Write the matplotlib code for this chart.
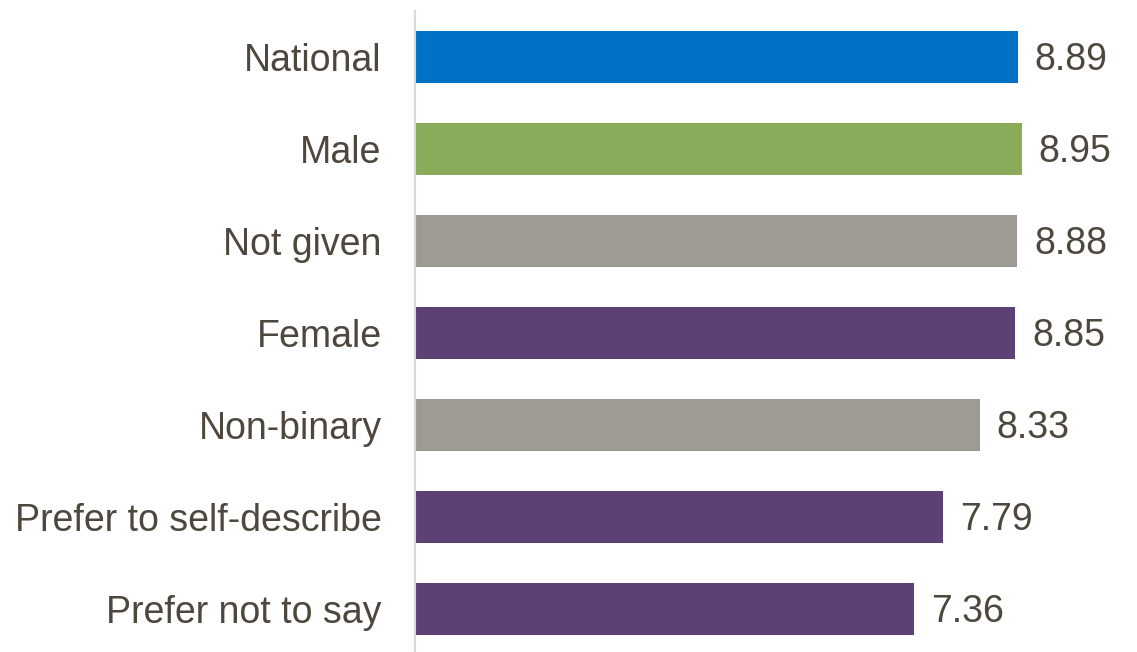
import matplotlib
matplotlib.use("Agg")
import matplotlib.pyplot as plt

categories = ["National", "Male", "Not given", "Female", "Non-binary",
              "Prefer to self-describe", "Prefer not to say"]
values = [8.89, 8.95, 8.88, 8.85, 8.33, 7.79, 7.36]
colors = ["#0072C6", "#8AAC5A", "#9E9A94", "#5C4174", "#9E9A94", "#5C4174", "#5C4174"]

text_color = "#4D473D"
plt.rcParams["font.family"] = ["Liberation Sans", "DejaVu Sans"]

W, H = 1137, 652
fig = plt.figure(figsize=(W / 100, H / 100), dpi=100)
px_per_unit = 67.8
xmax = 10.0
left, top, pitch = 415, 11, 92
n = len(categories)
ax = fig.add_axes([left / W, (H - (top + pitch * n)) / H,
                   px_per_unit * xmax / W, pitch * n / H])

ypos = list(range(n))
ax.barh(ypos, values, height=0.565, color=colors, zorder=2)
ax.set_xlim(0, xmax)
ax.set_ylim(n - 0.5, -0.5)

# value labels just past the end of each bar
for y, v in zip(ypos, values):
    ax.annotate(f"{v:.2f}", xy=(v, y), xytext=(17, -3), textcoords="offset pixels",
                va="center", ha="left", fontsize=27, color=text_color)

ax.set_yticks(ypos)
ax.set_yticklabels(categories, fontsize=27, color=text_color)
ax.tick_params(axis="y", length=0, pad=24)
ax.set_xticks([])

for s in ["top", "right", "bottom"]:
    ax.spines[s].set_visible(False)
ax.spines["left"].set_color("#D9D9D9")
ax.spines["left"].set_linewidth(1.5)

fig.savefig("out.png", dpi=100)
